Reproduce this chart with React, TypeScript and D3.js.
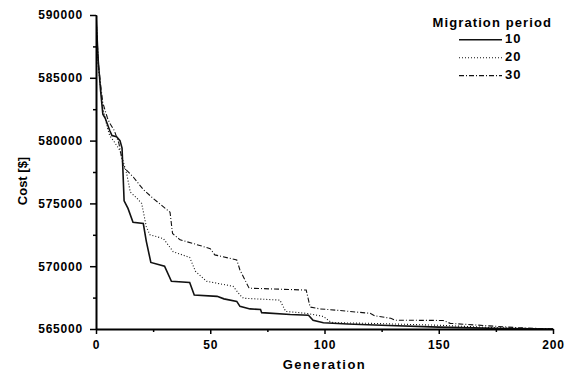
import { useEffect, useRef } from 'react';
import * as d3 from 'd3';

// Migration period 10 (solid)
const gen10 = [0, 1, 2, 3, 4, 5, 6, 7, 9, 10.5, 11.4, 12.3, 14, 16.2, 20.7, 22, 24, 30, 33, 41, 43, 53, 56, 61.6, 63, 67.4, 72, 72.5, 85, 93, 95, 99.5, 110, 125, 150, 175, 200];
const cost10 = [590000, 586300, 584000, 582100, 581800, 581300, 580800, 580400, 580300, 580000, 579400, 575200, 574600, 573500, 573400, 572000, 570300, 570000, 568800, 568700, 567700, 567600, 567400, 567200, 566800, 566600, 566550, 566300, 566150, 566100, 565700, 565500, 565400, 565300, 565150, 565050, 565000];

// Migration period 20 (dotted)
const gen20 = [0, 1, 2, 3, 5, 6, 8, 10.5, 13.4, 15, 18, 20, 22, 23.6, 29.5, 33.8, 41, 43.5, 48.4, 60, 63, 64.5, 80.5, 83, 92, 99.5, 102.4, 104, 120, 150, 175, 200];
const cost20 = [590000, 586000, 584200, 582600, 581000, 580400, 579900, 579200, 577400, 575900, 575400, 575000, 573150, 572500, 572200, 571150, 570700, 569600, 568800, 568400, 567700, 567450, 567300, 566400, 566250, 566000, 565600, 565500, 565450, 565300, 565100, 565000];

// Migration period 30 (dash-dot)
const gen30 = [0, 1, 2, 3, 5, 6, 8, 10, 12, 16.3, 20.7, 25, 32.4, 33.5, 36.8, 42.6, 50, 52, 61.6, 63, 67, 92, 93.7, 98, 105, 111, 120, 122, 129, 131, 152, 155, 172, 185, 200];
const cost30 = [590000, 586200, 584500, 583000, 581800, 581400, 580800, 579800, 577900, 577100, 576100, 575400, 574300, 572600, 572100, 571800, 571400, 570900, 570500, 569700, 568250, 568100, 566750, 566600, 566500, 566400, 566250, 566050, 565850, 565700, 565680, 565450, 565250, 565100, 565000];

const yTicks = [565000, 570000, 575000, 580000, 585000, 590000];
const yMinor = [567500, 572500, 577500, 582500, 587500];
const xTicks = [0, 50, 100, 150, 200];
const xMinor = [25, 75, 125, 175];
const seriesNames = ['10', '20', '30'];
const dashes = ['none', '1,2', '5,2,1,2'];
const widths = [1.6, 1.1, 1.1];

const FONT = '"Liberation Sans", Arial, sans-serif';

export default function App() {
  const svgRef = useRef<SVGSVGElement | null>(null);

  useEffect(() => {
    if (!svgRef.current) return;
    const width = 571;
    const height = 374;
    const margin = { top: 15, right: 18, bottom: 45, left: 96 };
    const svg = d3.select(svgRef.current);
    svg.selectAll('*').remove();

    const x = d3.scaleLinear().domain([0, 200]).range([margin.left, width - margin.right]);
    const y = d3.scaleLinear().domain([565000, 590000]).range([height - margin.bottom, margin.top]);

    svg.append('clipPath').attr('id', 'plot-clip')
      .append('rect')
      .attr('x', margin.left).attr('y', margin.top - 1)
      .attr('width', width - margin.left - margin.right)
      .attr('height', height - margin.top - margin.bottom + 1);

    const series = [
      { gens: gen10, costs: cost10 },
      { gens: gen20, costs: cost20 },
      { gens: gen30, costs: cost30 },
    ];

    const line = d3.line<[number, number]>()
      .x(d => x(d[0]))
      .y(d => y(d[1]));

    const lines = svg.append('g').attr('clip-path', 'url(#plot-clip)');
    series.forEach((s, i) => {
      const pts = s.gens.map((g, j) => [g, s.costs[j]] as [number, number]);
      lines.append('path')
        .attr('d', line(pts) || '')
        .attr('fill', 'none')
        .attr('stroke', '#111')
        .attr('stroke-width', widths[i])
        .attr('stroke-dasharray', dashes[i]);
    });

    // Axes
    const yAxis = svg.append('g')
      .attr('transform', `translate(${margin.left},0)`)
      .call(d3.axisLeft(y).tickValues(yTicks).tickSize(6).tickSizeOuter(0).tickPadding(7).tickFormat(d => String(d)));
    svg.append('g')
      .attr('transform', `translate(${margin.left},0)`)
      .call(d3.axisLeft(y).tickValues(yMinor).tickSize(3).tickSizeOuter(0).tickFormat(() => ''))
      .select('.domain').remove();

    const xAxis = svg.append('g')
      .attr('transform', `translate(0,${height - margin.bottom})`)
      .call(d3.axisBottom(x).tickValues(xTicks).tickSize(5).tickSizeOuter(0).tickPadding(6).tickFormat(d => String(d)));
    svg.append('g')
      .attr('transform', `translate(0,${height - margin.bottom})`)
      .call(d3.axisBottom(x).tickValues(xMinor).tickSize(3).tickSizeOuter(0).tickFormat(() => ''))
      .select('.domain').remove();

    [yAxis, xAxis].forEach(a => {
      a.select('.domain').attr('stroke', '#000').attr('stroke-width', 2);
      a.selectAll('.tick line').attr('stroke', '#000').attr('stroke-width', 1.5);
      a.selectAll('.tick text')
        .attr('font-family', FONT)
        .attr('font-weight', 'bold')
        .attr('font-size', 12)
        .attr('letter-spacing', 0.8)
        .attr('fill', '#000');
    });
    svg.selectAll('.tick line').attr('stroke', '#000').attr('stroke-width', 1.5);

    // Axis titles
    svg.append('text')
      .attr('x', (margin.left + width - margin.right) / 2)
      .attr('y', 369)
      .attr('text-anchor', 'middle')
      .attr('font-family', FONT)
      .attr('font-weight', 'bold')
      .attr('font-size', 13)
      .attr('letter-spacing', 1.5)
      .text('Generation');

    svg.append('text')
      .attr('transform', `translate(27,181) rotate(-90)`)
      .attr('text-anchor', 'middle')
      .attr('font-family', FONT)
      .attr('font-weight', 'bold')
      .attr('font-size', 13)
      .text('Cost [$]');

    // Legend
    const legend = svg.append('g');
    legend.append('text')
      .attr('x', 552)
      .attr('y', 27)
      .attr('text-anchor', 'end')
      .attr('font-family', FONT)
      .attr('font-weight', 'bold')
      .attr('font-size', 13)
      .attr('letter-spacing', 1.1)
      .text('Migration period');

    seriesNames.forEach((name, i) => {
      const base = 43.3 + i * 17.9;
      legend.append('line')
        .attr('x1', 459).attr('x2', 502)
        .attr('y1', base - 3.5).attr('y2', base - 3.5)
        .attr('stroke', '#111')
        .attr('stroke-width', widths[i])
        .attr('stroke-dasharray', dashes[i]);
      legend.append('text')
        .attr('x', 505)
        .attr('y', base)
        .attr('font-family', FONT)
        .attr('font-weight', 'bold')
        .attr('font-size', 13)
        .attr('letter-spacing', 1)
        .text(name);
    });
  }, []);

  return (
    <svg
      ref={svgRef}
      width={571}
      height={374}
      style={{ position: 'absolute', left: 0, top: 0, background: '#fff' }}
    />
  );
}
